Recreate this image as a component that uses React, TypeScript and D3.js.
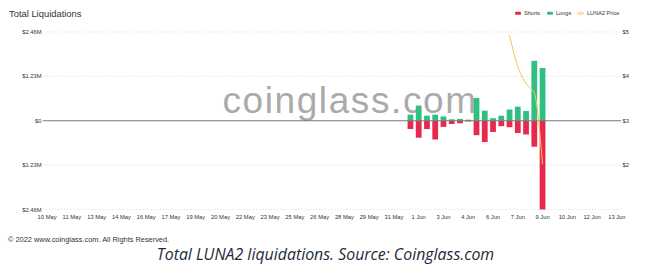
import React from "react";
import * as d3 from "d3";

// ---- data ----
const W = 655;
const H = 273;

// bar slots (12-hour buckets) with data
const barTimes = [
  "2022-06-01 00:00", "2022-06-01 12:00", "2022-06-02 00:00", "2022-06-02 12:00",
  "2022-06-03 00:00", "2022-06-03 12:00", "2022-06-04 00:00", "2022-06-04 12:00",
  "2022-06-05 00:00", "2022-06-05 12:00", "2022-06-06 00:00", "2022-06-06 12:00",
  "2022-06-07 00:00", "2022-06-07 12:00", "2022-06-08 00:00", "2022-06-08 12:00",
  "2022-06-09 00:00",
];
// millions USD
const longs = [0.17, 0.42, 0.14, 0.17, 0.12, 0.04, 0.05, 0.03, 0.63, 0.28, 0.07, 0.14, 0.31, 0.39, 0.27, 1.66, 1.46];
const shorts = [0.23, 0.47, 0.23, 0.52, 0.17, 0.09, 0.07, 0.02, 0.4, 0.59, 0.31, 0.15, 0.18, 0.34, 0.38, 0.72, 2.46];

const priceTimes = ["2022-06-07 00:00", "2022-06-07 12:00", "2022-06-08 00:00", "2022-06-08 12:00", "2022-06-09 00:00"];
const prices = [4.93, 4.22, 3.84, 3.62, 2.02];

const xTickLabels = [
  "10 May", "11 May", "13 May", "14 May", "16 May", "17 May", "19 May", "20 May",
  "22 May", "23 May", "25 May", "26 May", "28 May", "29 May", "31 May", "1 Jun",
  "3 Jun", "4 Jun", "6 Jun", "7 Jun", "9 Jun", "10 Jun", "12 Jun", "13 Jun",
];
const leftTicks = [2.46, 1.23, 0, -1.23, -2.46];
const leftTickLabels = ["$2.46M", "$1.23M", "$0", "$1.23M", "$2.46M"];
const rightTicks = [5, 4, 3, 2];
const rightTickLabels = ["$5", "$4", "$3", "$2"];

const legendItems = ["Shorts", "Longs", "LUNA2 Price"];

// ---- styling ----
const RED = "#e8294f";
const GREEN = "#30bf83";
const YELLOW = "#f5c451";
const FONT = "'Liberation Sans', Arial, sans-serif";

const fmt = d3.timeFormat("%Y-%m-%d %H:%M");
const categories = d3.timeHour
  .every(12)!
  .range(new Date(2022, 4, 10, 0), new Date(2022, 5, 14, 0))
  .map(fmt);

export default function App() {
  const gL = 43, gR = 621, gT = 32, gB = 209.5;
  const x = d3.scaleBand<string>().domain(categories).range([gL, gR]).padding(0);
  const bw = x.bandwidth() * 0.7;
  const cx = (c: string) => (x(c) as number) + x.bandwidth() / 2;
  const y = d3.scaleLinear().domain([-2.46, 2.46]).range([gB, gT]);
  const yP = d3.scaleLinear().domain([1, 5]).range([gB, gT]);

  const line = d3
    .line<number>()
    .x((_, i) => cx(priceTimes[i]))
    .y((d) => yP(d))
    .curve(d3.curveMonotoneX);

  const legendX = [515, 547, 577];

  return (
    <svg width={W} height={H} style={{ position: "absolute", left: 0, top: 0, background: "#fff" }} fontFamily={FONT}>
      <rect width={W} height={H} fill="#fff" />
      <text x={9} y={17.3} fontSize={9.4} fill="#333">Total Liquidations</text>

      {/* legend */}
      <g fontSize={5.6} fill="#333">
        <rect x={legendX[0]} y={11.8} width={6} height={3} rx={1} fill={RED} />
        <text x={legendX[0] + 9} y={15.3}>{legendItems[0]}</text>
        <rect x={legendX[1]} y={11.8} width={6} height={3} rx={1} fill={GREEN} />
        <text x={legendX[1] + 9} y={15.3}>{legendItems[1]}</text>
        <line x1={legendX[2]} x2={legendX[2] + 7} y1={13.3} y2={13.3} stroke={YELLOW} strokeWidth={1} />
        <circle cx={legendX[2] + 3.5} cy={13.3} r={1.5} fill="#fff" stroke={YELLOW} strokeWidth={0.8} />
        <text x={legendX[2] + 10} y={15.3}>{legendItems[2]}</text>
      </g>

      {/* grid */}
      {leftTicks.map((t, i) =>
        t === 0 ? null : (
          <line key={"g" + i} x1={gL} x2={gR} y1={y(t)} y2={y(t)} stroke="#d8d8d8" strokeWidth={0.6} strokeDasharray="1.5,1.5" />
        )
      )}
      <g fontSize={5.8} fill="#333">
        {leftTicks.map((t, i) => (
          <text key={"l" + i} x={41.5} y={y(t) + 2} textAnchor="end">{leftTickLabels[i]}</text>
        ))}
        {rightTicks.map((t, i) => (
          <text key={"r" + i} x={622.5} y={yP(t) + 2}>{rightTickLabels[i]}</text>
        ))}
        {xTickLabels.map((lab, i) => (
          <text key={"x" + i} x={cx(categories[i * 3])} y={218.7} textAnchor="middle">{lab}</text>
        ))}
      </g>

      {/* watermark */}
      <text x={350} y={113} textAnchor="middle" fontSize={37} letterSpacing={1.6} fill="#9c9c9c" opacity={0.85}>
        coinglass.com
      </text>

      {/* bars */}
      {barTimes.map((t, i) => (
        <g key={"b" + i}>
          <rect x={cx(t) - bw / 2} y={y(longs[i])} width={bw} height={y(0) - y(longs[i])} fill={GREEN} />
          <rect x={cx(t) - bw / 2} y={y(0)} width={bw} height={y(-shorts[i]) - y(0)} fill={RED} />
        </g>
      ))}

      {/* zero axis line */}
      <line x1={gL} x2={gR} y1={y(0)} y2={y(0)} stroke="#777" strokeWidth={1} />

      {/* price line */}
      <path d={line(prices) || ""} fill="none" stroke={YELLOW} strokeWidth={1} />

      <text x={8} y={241.5} fontSize={7.4} fill="#333">© 2022 www.coinglass.com. All Rights Reserved.</text>
      <text x={325.5} y={259.5} textAnchor="middle" fontSize={15.9} fontStyle="italic" fontFamily="'Open Sans', sans-serif" fill="#1e2a3a">
        Total LUNA2 liquidations. Source: Coinglass.com
      </text>
    </svg>
  );
}
